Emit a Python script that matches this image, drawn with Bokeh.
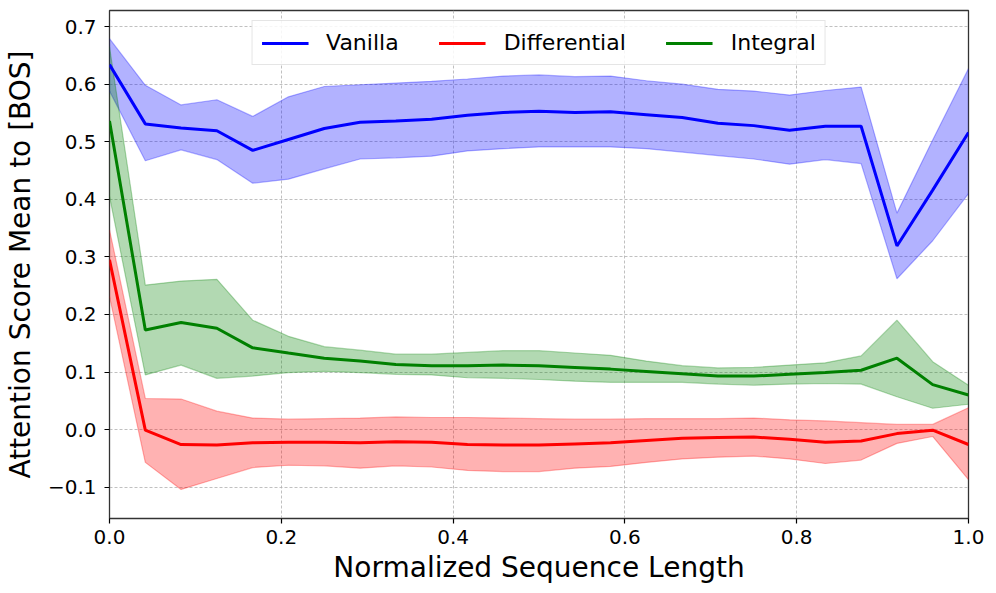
from bokeh.plotting import figure
from bokeh.models import Legend, LegendItem, FixedTicker, CustomJSTickFormatter, Range1d
from bokeh.embed import file_html
from bokeh.resources import INLINE

x_vals = [0.0, 0.0417, 0.0833, 0.125, 0.1667, 0.2083, 0.25, 0.2917, 0.3333, 0.375,
          0.4167, 0.4583, 0.5, 0.5417, 0.5833, 0.625, 0.6667, 0.7083, 0.75, 0.7917,
          0.8333, 0.875, 0.9167, 0.9583, 1.0]

vanilla_mean = [0.634, 0.531, 0.524, 0.519, 0.485, 0.504, 0.523, 0.534, 0.536, 0.539,
                0.546, 0.551, 0.553, 0.551, 0.552, 0.547, 0.542, 0.532, 0.528, 0.520,
                0.527, 0.527, 0.319, 0.416, 0.516]
vanilla_upper = [0.679, 0.598, 0.564, 0.573, 0.544, 0.578, 0.596, 0.599, 0.602, 0.605,
                 0.609, 0.614, 0.616, 0.613, 0.614, 0.606, 0.600, 0.591, 0.588, 0.581,
                 0.589, 0.595, 0.376, 0.503, 0.627]
vanilla_lower = [0.588, 0.467, 0.486, 0.469, 0.428, 0.435, 0.453, 0.470, 0.472, 0.475,
                 0.484, 0.488, 0.491, 0.491, 0.491, 0.488, 0.482, 0.476, 0.470, 0.461,
                 0.469, 0.462, 0.262, 0.328, 0.410]

diff_mean = [0.295, -0.001, -0.026, -0.027, -0.023, -0.022, -0.022, -0.023, -0.021, -0.022,
             -0.026, -0.027, -0.027, -0.025, -0.023, -0.019, -0.015, -0.014, -0.013, -0.017,
             -0.022, -0.020, -0.007, -0.001, -0.026]
diff_upper = [0.347, 0.054, 0.053, 0.032, 0.020, 0.018, 0.019, 0.020, 0.022, 0.021,
              0.021, 0.020, 0.019, 0.018, 0.018, 0.019, 0.019, 0.019, 0.020, 0.017,
              0.015, 0.012, 0.009, 0.009, 0.038]
diff_lower = [0.231, -0.057, -0.104, -0.085, -0.066, -0.062, -0.063, -0.067, -0.063, -0.065,
              -0.071, -0.073, -0.073, -0.067, -0.064, -0.057, -0.051, -0.048, -0.046, -0.051,
              -0.059, -0.053, -0.024, -0.012, -0.087]

integ_mean = [0.536, 0.173, 0.186, 0.176, 0.142, 0.133, 0.124, 0.119, 0.113, 0.111,
              0.111, 0.112, 0.111, 0.108, 0.105, 0.101, 0.097, 0.093, 0.093, 0.096,
              0.099, 0.103, 0.124, 0.078, 0.060]
integ_upper = [0.665, 0.251, 0.258, 0.261, 0.190, 0.162, 0.144, 0.138, 0.131, 0.131,
               0.134, 0.137, 0.137, 0.133, 0.129, 0.119, 0.111, 0.107, 0.108, 0.112,
               0.116, 0.128, 0.190, 0.118, 0.077]
integ_lower = [0.405, 0.095, 0.112, 0.089, 0.093, 0.099, 0.101, 0.099, 0.096, 0.095,
               0.090, 0.089, 0.087, 0.084, 0.082, 0.082, 0.082, 0.079, 0.077, 0.079,
               0.080, 0.079, 0.057, 0.037, 0.044]

x_ticks = [0.0, 0.2, 0.4, 0.6, 0.8, 1.0]
y_ticks = [-0.1, 0.0, 0.1, 0.2, 0.3, 0.4, 0.5, 0.6, 0.7]

FONT = "DejaVu Sans"

p = figure(width=990, height=590, output_backend="svg", toolbar_location=None,
           x_range=Range1d(0, 1), y_range=Range1d(-0.1545, 0.728),
           min_border_left=107, min_border_right=22, min_border_top=10, min_border_bottom=72)

p.outline_line_color = "black"
p.outline_line_width = 1.3
p.outline_line_alpha = 0.8

series = [
    ("Vanilla", vanilla_mean, vanilla_upper, vanilla_lower, "#0000ff"),
    ("Differential", diff_mean, diff_upper, diff_lower, "#ff0000"),
    ("Integral", integ_mean, integ_upper, integ_lower, "#008000"),
]

items = []
for name, m, up, lo, col in series:
    p.varea(x=x_vals, y1=lo, y2=up, fill_color=col, fill_alpha=0.3)
    p.line(x_vals, up, line_color=col, line_alpha=0.3, line_width=1.2)
    p.line(x_vals, lo, line_color=col, line_alpha=0.3, line_width=1.2)

for name, m, up, lo, col in series:
    r = p.line(x_vals, m, line_color=col, line_width=3)
    items.append(LegendItem(label=name, renderers=[r]))

fmt = CustomJSTickFormatter(code="""
    const s = Math.abs(tick).toFixed(1);
    return (tick < -1e-9 ? "\u2212" : "") + s;
""")

for ax in (p.xaxis[0], p.yaxis[0]):
    ax.major_label_text_font = FONT
    ax.major_label_text_font_size = "20px"
    ax.major_label_text_color = "black"
    ax.axis_label_text_font = FONT
    ax.axis_label_text_font_size = "28px"
    ax.axis_label_text_font_style = "normal"
    ax.axis_label_text_color = "black"
    ax.major_tick_out = 5
    ax.major_tick_in = 0
    ax.major_tick_line_color = "black"
    ax.major_tick_line_width = 1.2
    ax.minor_tick_line_color = None
    ax.axis_line_color = None
    ax.formatter = fmt

p.xaxis[0].ticker = FixedTicker(ticks=x_ticks)
p.yaxis[0].ticker = FixedTicker(ticks=y_ticks)
p.xaxis[0].axis_label = "Normalized Sequence Length"
p.yaxis[0].axis_label = "Attention Score Mean to [BOS]"
p.xaxis[0].major_label_standoff = 6
p.yaxis[0].major_label_standoff = 8
p.xaxis[0].axis_label_standoff = 4
p.yaxis[0].axis_label_standoff = 8

p.grid.grid_line_color = "#b0b0b0"
p.grid.grid_line_dash = "3 2"
p.grid.grid_line_width = 0.8
p.xgrid.ticker = FixedTicker(ticks=x_ticks)
p.ygrid.ticker = FixedTicker(ticks=y_ticks)

legend = Legend(items=items, location="top_center", orientation="horizontal",
                label_text_font=FONT, label_text_font_size="22px", label_text_color="black",
                glyph_width=47, glyph_height=22, label_standoff=18, spacing=40,
                padding=9, margin=10,
                border_line_color="#cccccc", border_line_width=1.2,
                background_fill_color="white", background_fill_alpha=0.85)
p.add_layout(legend, "center")

open("out.html", "w").write(file_html(p, INLINE))
